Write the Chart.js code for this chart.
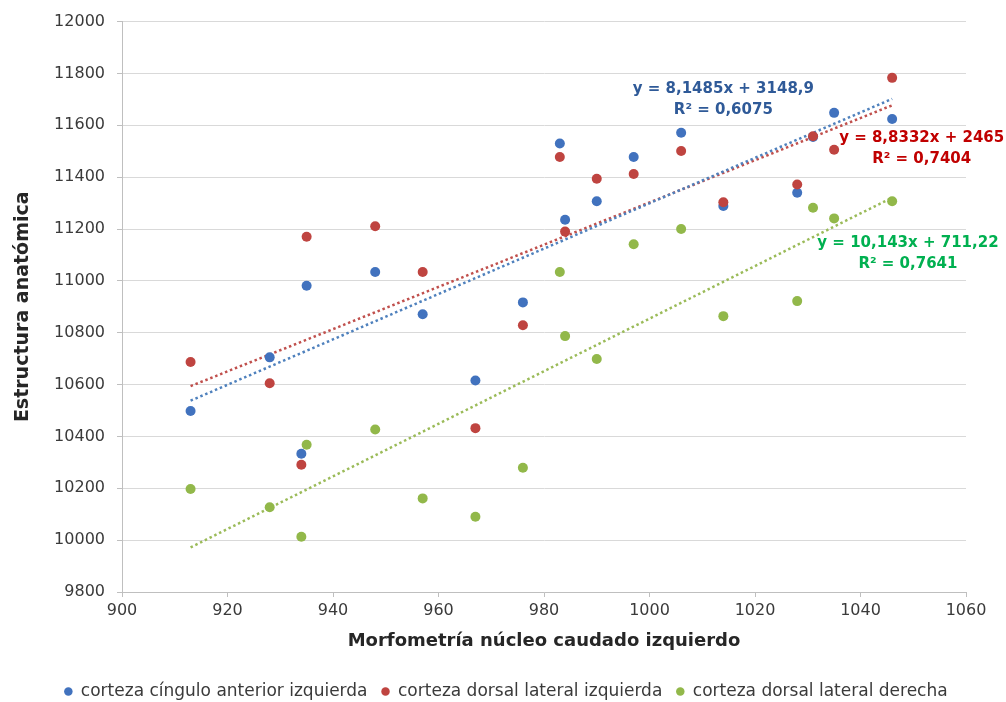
<!DOCTYPE html>
<html lang="es">
<head>
<meta charset="utf-8">
<title>Morfometría núcleo caudado izquierdo</title>
<script src="https://cdn.jsdelivr.net/npm/chart.js@4.4.1/dist/chart.umd.min.js"></script>
<style>
    html, body { margin: 0; padding: 0; background: #ffffff; }
    #chart { display: block; }
</style>
</head>
<body>
<canvas id="chart" width="1006" height="702"></canvas>
<script>
// Morfometría del núcleo caudado izquierdo (eje X) para cada sujeto
const caudadoIzq = [913, 928, 934, 935, 948, 957, 967, 976, 983, 984, 990, 997, 1006, 1014, 1028, 1031, 1035, 1046];

// Estructura anatómica, una lista por serie
const cinguloAnteriorIzq = [10498, 10705, 10333, 10981, 11034, 10871, 10616, 10917, 11530, 11236, 11307, 11478, 11571, 11289, 11340, 11555, 11648, 11624];
const dorsalLateralIzq = [10687, 10605, 10291, 11170, 11211, 11034, 10432, 10829, 11478, 11190, 11394, 11412, 11501, 11303, 11372, 11558, 11506, 11783];
const dorsalLateralDer = [10197, 10127, 10013, 10368, 10427, 10161, 10090, 10279, 11034, 10787, 10699, 11141, 11200, 10864, 10922, 11282, 11241, 11307];

const seriesNames = [
    'corteza cíngulo anterior izquierda',
    'corteza dorsal lateral izquierda',
    'corteza dorsal lateral derecha'
];

// Líneas de tendencia (extremos)
const trendX = [913, 1046];
const trendCingulo = [10538, 11702];
const trendDorsalIzq = [10594, 11677];
const trendDorsalDer = [9972, 11321];

const trendLabels = [
    ['y = 8,1485x + 3148,9', 'R² = 0,6075'],
    ['y = 8,8332x + 2465', 'R² = 0,7404'],
    ['y = 10,143x + 711,22', 'R² = 0,7641']
];

// Axis ticks
const xTicks = { min: 900, max: 1060, step: 20 };
const yTicks = { min: 9800, max: 12000, step: 200 };

const markerColors = ['#4172BE', '#BF4440', '#92B84A'];
const trendColors = ['#4F81BD', '#C0504D', '#9BBB59'];
const labelColors = ['#2F5A98', '#C00000', '#00B050'];
// anchor of each equation label in data units (centre of first line)
const labelAnchors = [
    { x: 1014, y: 11741 },
    { x: 1051.6, y: 11551 },
    { x: 1049, y: 11145 }
];

const FONT = "'DejaVu Sans', 'Liberation Sans', Arial, sans-serif";

function toPoints(xs, ys) {
    return xs.map((x, i) => ({ x: x, y: ys[i] }));
}

const scatterData = [cinguloAnteriorIzq, dorsalLateralIzq, dorsalLateralDer];
const trendData = [trendCingulo, trendDorsalIzq, trendDorsalDer];

const datasets = [];
scatterData.forEach((values, i) => {
    datasets.push({
        type: 'scatter',
        label: seriesNames[i],
        data: toPoints(caudadoIzq, values),
        backgroundColor: markerColors[i],
        borderColor: markerColors[i],
        borderWidth: 0,
        pointRadius: 5,
        pointHoverRadius: 5,
        order: 3 - i // later series painted on top, like the original
    });
});
trendData.forEach((values, i) => {
    datasets.push({
        type: 'line',
        label: 'trend ' + i,
        data: toPoints(trendX, values),
        borderColor: trendColors[i],
        backgroundColor: trendColors[i],
        borderWidth: 2.5,
        borderDash: [2.5, 2.8],
        pointRadius: 0,
        fill: false,
        order: 10 + i
    });
});

// Draws the trendline equations at their anchors
const equationLabels = {
    id: 'equationLabels',
    afterDatasetsDraw(chart) {
        const { ctx, scales } = chart;
        ctx.save();
        ctx.font = 'bold 15px ' + FONT;
        ctx.textAlign = 'center';
        ctx.textBaseline = 'middle';
        trendLabels.forEach((lines, i) => {
            const px = scales.x.getPixelForValue(labelAnchors[i].x);
            const py = scales.y.getPixelForValue(labelAnchors[i].y);
            ctx.fillStyle = labelColors[i];
            lines.forEach((line, j) => ctx.fillText(line, px, py + j * 21));
        });
        ctx.restore();
    }
};

// Centre the legend row under the whole picture rather than the padded box
const legendShift = {
    id: 'legendShift',
    afterLayout(chart) {
        chart.legend.right = chart.width + 6;
    }
};

const chart = new Chart(document.getElementById('chart'), {
    data: { datasets: datasets },
    plugins: [equationLabels, legendShift],
    options: {
        responsive: false,
        animation: false,
        layout: {
            padding: { left: 0, right: 40, top: 21, bottom: -8 }
        },
        plugins: {
            tooltip: { enabled: false },
            legend: {
                position: 'bottom',
                labels: {
                    filter: item => item.datasetIndex < 3,
                    sort: (a, b) => a.datasetIndex - b.datasetIndex,
                    usePointStyle: true,
                    pointStyle: 'circle',
                    boxWidth: 8,
                    boxHeight: 6,
                    padding: 14,
                    color: '#3a3a3a',
                    font: { family: FONT, size: 17 }
                }
            }
        },
        scales: {
            x: {
                type: 'linear',
                position: 'bottom',
                min: xTicks.min,
                max: xTicks.max,
                afterFit: scale => { scale.height = 77; },
                ticks: {
                    stepSize: xTicks.step,
                    padding: 4,
                    color: '#3a3a3a',
                    font: { family: FONT, size: 16 },
                    callback: v => String(v)
                },
                grid: {
                    drawOnChartArea: false,
                    drawTicks: true,
                    tickLength: 5,
                    tickColor: '#bfbfbf'
                },
                border: { color: '#bfbfbf', width: 1 },
                title: {
                    display: true,
                    text: 'Morfometría núcleo caudado izquierdo',
                    color: '#262626',
                    font: { family: FONT, size: 18, weight: 'bold' },
                    padding: { top: 0, bottom: 17 }
                }
            },
            y: {
                type: 'linear',
                min: yTicks.min,
                max: yTicks.max,
                afterFit: scale => { scale.width = 122; },
                ticks: {
                    stepSize: yTicks.step,
                    padding: 12,
                    color: '#3a3a3a',
                    font: { family: FONT, size: 16 },
                    callback: v => String(v)
                },
                grid: {
                    color: '#d9d9d9',
                    lineWidth: 1,
                    tickLength: 5,
                    tickColor: '#bfbfbf'
                },
                border: { color: '#bfbfbf', width: 1 },
                title: {
                    display: true,
                    text: 'Estructura anatómica',
                    color: '#262626',
                    font: { family: FONT, size: 19, weight: 'bold' },
                    padding: { top: 12, bottom: 0 }
                }
            }
        }
    }
});
</script>
</body>
</html>
